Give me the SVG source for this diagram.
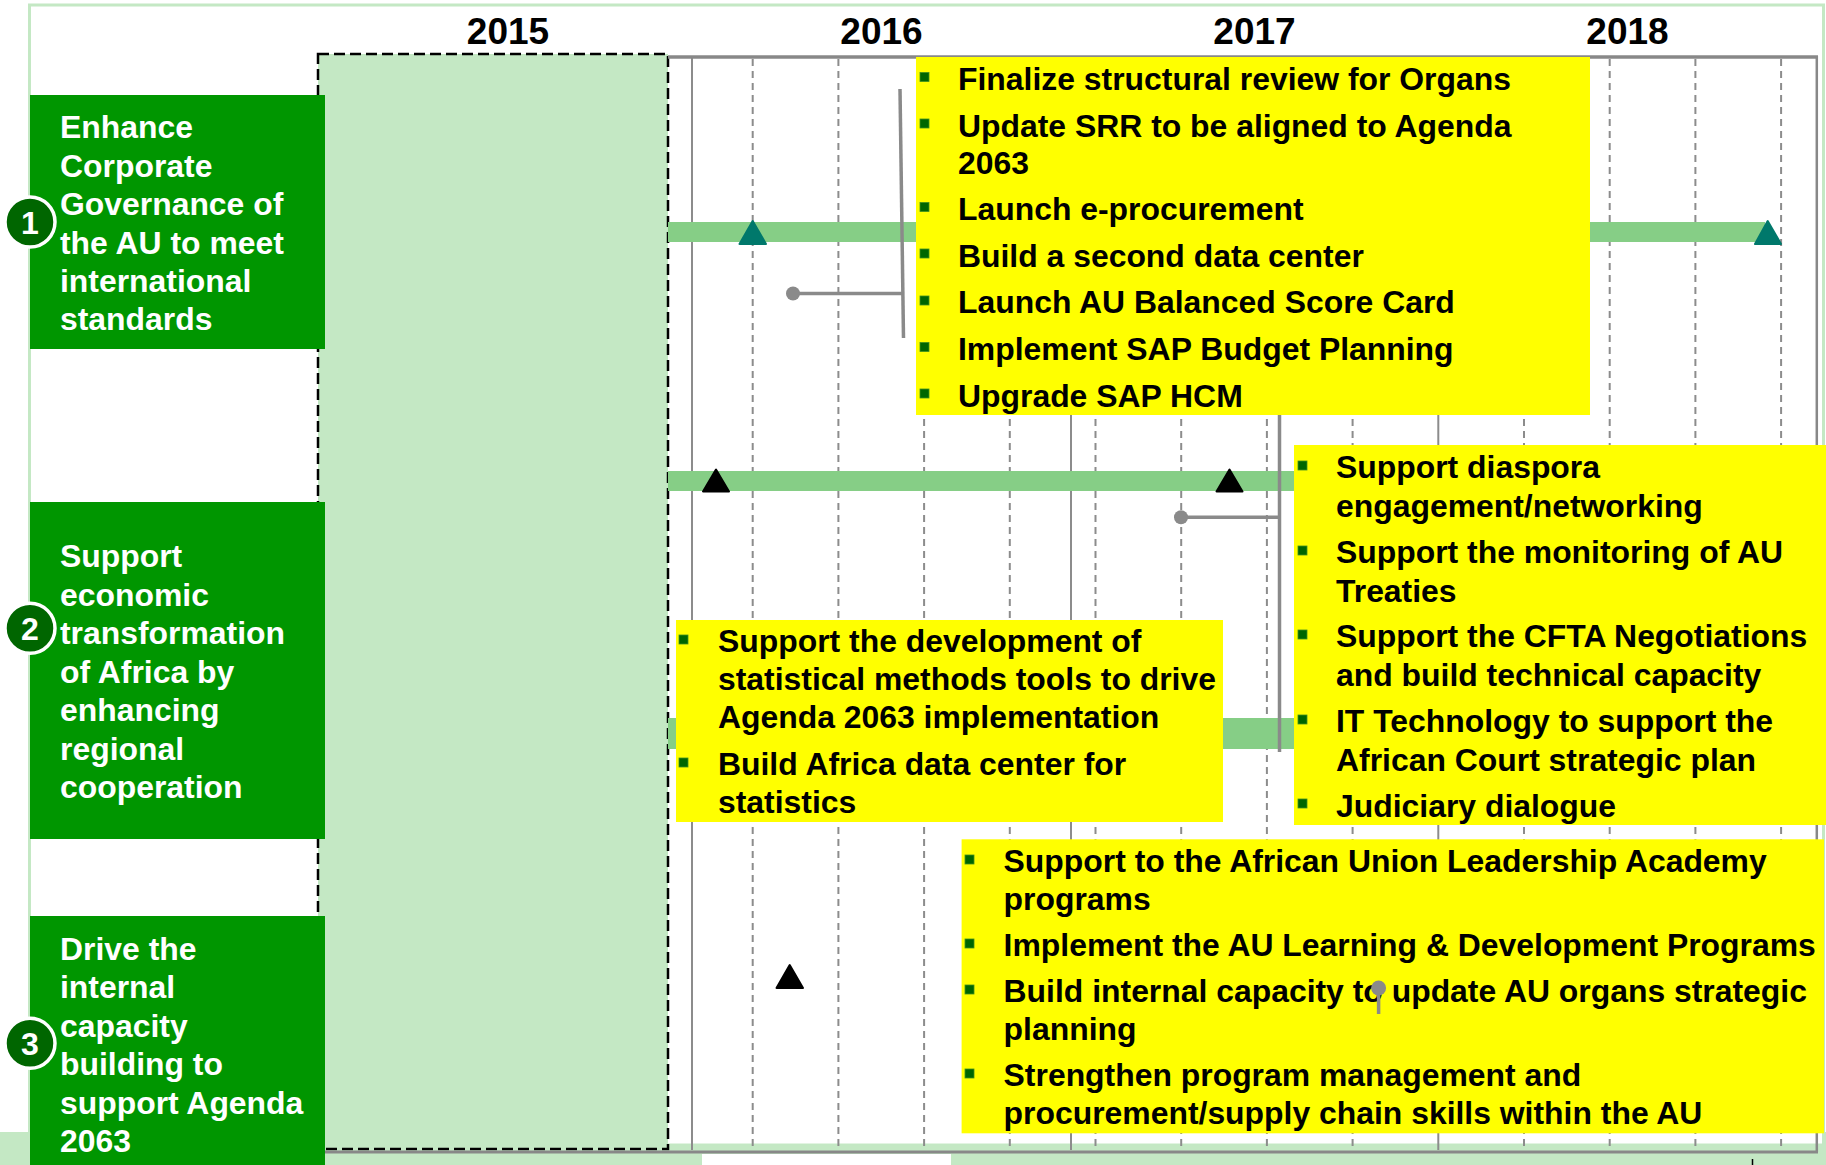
<svg xmlns="http://www.w3.org/2000/svg" width="1826" height="1165" viewBox="0 0 1826 1165">
<defs>
<style>
.t{font-family:"Liberation Sans",Arial,Helvetica,sans-serif;font-weight:bold;font-size:31.9px}
.w{fill:#ffffff}
.k{fill:#000000}
.yr{font-family:"Liberation Sans",Arial,Helvetica,sans-serif;font-weight:bold;font-size:37px;text-anchor:middle;fill:#000}
.num{font-family:"Liberation Sans",Arial,Helvetica,sans-serif;font-weight:bold;font-size:32px;text-anchor:middle;fill:#fff}
.goal{fill:#009600}
.badge{fill:#006600;stroke:#ffffff;stroke-width:3.5}
.task{fill:#ffff00}
.bul{fill:#006600;stroke:#3f8f1f;stroke-width:0.8}
.gs{stroke:#8c8c8c;stroke-width:2;fill:none}
.gd{stroke:#8c8c8c;stroke-width:2;stroke-dasharray:7 5;fill:none}
.bar{fill:#86ce86}
.teal{fill:#00786b;stroke:#00786b;stroke-width:2;stroke-linejoin:round}
.blk{fill:#000;stroke:#000;stroke-width:2;stroke-linejoin:round}
.con{stroke:#8a8a8a;stroke-width:3.5;fill:none}
.dot{fill:#8a8a8a}
</style>
</defs>
<rect x="0" y="0" width="1826" height="1165" fill="#ffffff"/>
<!-- bottom light green band -->
<rect x="0" y="1132" width="1826" height="33" fill="#c4e8c4"/>
<rect x="31" y="7" width="1791" height="1138" fill="#ffffff"/>
<rect x="29.5" y="5" width="1794" height="1140" fill="none" stroke="#c4e8c4" stroke-width="3"/>
<rect x="702" y="1154" width="249" height="11" fill="#ffffff"/>
<line x1="1752.5" y1="1159" x2="1752.5" y2="1165" stroke="#000" stroke-width="1.5"/>

<!-- 2015 shaded period -->
<rect id="period-2015" x="318" y="54" width="350" height="1095" fill="#c4e8c4" stroke="#000" stroke-width="2.5" stroke-dasharray="11 5"/>

<!-- grid -->
<g id="grid">
<line class="gs" x1="692" y1="58" x2="692" y2="1150"/>
<line class="gs" x1="1071" y1="58" x2="1071" y2="1150"/>
<line class="gs" x1="1438.3" y1="58" x2="1438.3" y2="1150"/>
<line class="gd" x1="752.7" y1="59" x2="752.7" y2="1150"/>
<line class="gd" x1="838.4" y1="59" x2="838.4" y2="1150"/>
<line class="gd" x1="924.1" y1="59" x2="924.1" y2="1150"/>
<line class="gd" x1="1009.8" y1="59" x2="1009.8" y2="1150"/>
<line class="gd" x1="1095.5" y1="59" x2="1095.5" y2="1150"/>
<line class="gd" x1="1181.2" y1="59" x2="1181.2" y2="1150"/>
<line class="gd" x1="1266.9" y1="59" x2="1266.9" y2="1150"/>
<line class="gd" x1="1352.6" y1="59" x2="1352.6" y2="1150"/>
<line class="gd" x1="1524" y1="59" x2="1524" y2="1150"/>
<line class="gd" x1="1609.7" y1="59" x2="1609.7" y2="1150"/>
<line class="gd" x1="1695.4" y1="59" x2="1695.4" y2="1150"/>
<line class="gd" x1="1781.1" y1="59" x2="1781.1" y2="1150"/>
<line x1="668" y1="57" x2="1818" y2="57" stroke="#888" stroke-width="3.5"/>
<line x1="1816.8" y1="56" x2="1816.8" y2="1152" stroke="#888" stroke-width="2.5"/>
<line x1="325" y1="1152" x2="1818" y2="1152" stroke="#888" stroke-width="3"/>
</g>

<!-- year labels -->
<g id="years">
<text class="yr" x="508" y="43.5">2015</text>
<text class="yr" x="881.5" y="43.5">2016</text>
<text class="yr" x="1254.5" y="43.5">2017</text>
<text class="yr" x="1627.5" y="43.5">2018</text>
</g>

<!-- bars and milestones -->
<g id="bars">
<rect class="bar" x="668" y="222" width="1097" height="20"/>
<rect class="bar" x="668" y="471" width="632" height="20"/>
<rect class="bar" x="668" y="718" width="632" height="31"/>
</g>
<g id="milestones">
<polygon class="teal" points="752.7,221 739.5,244 766,244"/>
<polygon class="teal" points="1767.7,221 1755,244 1781,244"/>
<polygon class="blk" points="716,469.5 703,491.5 729,491.5"/>
<polygon class="blk" points="1229.5,469.5 1216.5,491.5 1242.5,491.5"/>
<polygon class="blk" points="789.7,965 776.5,988 803,988"/>
</g>

<!-- connectors (row 1 and 2) -->
<g id="connectors">
<line class="con" x1="900" y1="89" x2="903.5" y2="338"/>
<line class="con" x1="793" y1="293.5" x2="902" y2="293.5"/>
<circle class="dot" cx="793" cy="293.5" r="7"/>
<line class="con" x1="1279.5" y1="410" x2="1279.5" y2="752"/>
<line class="con" x1="1181" y1="517.3" x2="1281" y2="517.3"/>
<circle class="dot" cx="1181" cy="517.3" r="7"/>
</g>

<!-- task box A -->
<g id="tasks-goal1">
<rect class="task" x="916" y="57" width="674" height="358"/>
<rect class="bul" x="920" y="72.5" width="9" height="9"/>
<rect class="bul" x="920" y="119" width="9" height="9"/>
<rect class="bul" x="920" y="202.5" width="9" height="9"/>
<rect class="bul" x="920" y="249" width="9" height="9"/>
<rect class="bul" x="920" y="296" width="9" height="9"/>
<rect class="bul" x="920" y="342.5" width="9" height="9"/>
<rect class="bul" x="920" y="389" width="9" height="9"/>
<text class="t k" x="958" y="90">Finalize structural review for Organs</text>
<text class="t k" x="958" y="136.7">Update SRR to be aligned to Agenda</text>
<text class="t k" x="958" y="174">2063</text>
<text class="t k" x="958" y="220">Launch e-procurement</text>
<text class="t k" x="958" y="266.7">Build a second data center</text>
<text class="t k" x="958" y="313.3">Launch AU Balanced Score Card</text>
<text class="t k" x="958" y="360">Implement SAP Budget Planning</text>
<text class="t k" x="958" y="406.5">Upgrade SAP HCM</text>
</g>

<!-- task box B -->
<g id="tasks-goal2-right">
<rect class="task" x="1294" y="445" width="532" height="380"/>
<rect class="bul" x="1298" y="461" width="9" height="9"/>
<rect class="bul" x="1298" y="546" width="9" height="9"/>
<rect class="bul" x="1298" y="630" width="9" height="9"/>
<rect class="bul" x="1298" y="715" width="9" height="9"/>
<rect class="bul" x="1298" y="799" width="9" height="9"/>
<text class="t k" x="1336" y="478.3">Support diaspora</text>
<text class="t k" x="1336" y="516.7">engagement/networking</text>
<text class="t k" x="1336" y="563.3">Support the monitoring of AU</text>
<text class="t k" x="1336" y="601.7">Treaties</text>
<text class="t k" x="1336" y="647.3">Support the CFTA Negotiations</text>
<text class="t k" x="1336" y="686">and build technical capacity</text>
<text class="t k" x="1336" y="732.3">IT Technology to support the</text>
<text class="t k" x="1336" y="770.7">African Court strategic plan</text>
<text class="t k" x="1336" y="816.7">Judiciary dialogue</text>
</g>

<!-- task box C -->
<g id="tasks-goal2-left">
<rect class="task" x="676" y="620" width="547" height="202"/>
<rect class="bul" x="679" y="635" width="9" height="9"/>
<rect class="bul" x="679" y="758" width="9" height="9"/>
<text class="t k" x="718" y="651.7">Support the development of</text>
<text class="t k" x="718" y="690">statistical methods tools to drive</text>
<text class="t k" x="718" y="728.3">Agenda 2063 implementation</text>
<text class="t k" x="718" y="775">Build Africa data center for</text>
<text class="t k" x="718" y="813.3">statistics</text>
</g>

<!-- task box D -->
<g id="tasks-goal3">
<rect class="task" x="961.6" y="839.3" width="862.4" height="294"/>
<rect class="bul" x="965" y="855" width="9" height="9"/>
<rect class="bul" x="965" y="939" width="9" height="9"/>
<rect class="bul" x="965" y="985" width="9" height="9"/>
<rect class="bul" x="965" y="1069" width="9" height="9"/>
<text class="t k" x="1003.6" y="871.7">Support to the African Union Leadership Academy</text>
<text class="t k" x="1003.6" y="910">programs</text>
<text class="t k" x="1003.6" y="956">Implement the AU Learning &amp; Development Programs</text>
<text class="t k" x="1003.6" y="1001.7">Build internal capacity to update AU organs strategic</text>
<text class="t k" x="1003.6" y="1040">planning</text>
<text class="t k" x="1003.6" y="1086">Strengthen program management and</text>
<text class="t k" x="1003.6" y="1124">procurement/supply chain skills within the AU</text>
</g>

<!-- connector row 3 (drawn over box D) -->
<g id="connector-3">
<line class="con" x1="1378.6" y1="988" x2="1378.6" y2="1014"/>
<circle class="dot" cx="1378.6" cy="988" r="7.5"/>
</g>

<!-- goals -->
<g id="goal-1">
<rect class="goal" x="30" y="95" width="295" height="254"/>
<text class="t w" x="60" y="138">Enhance</text>
<text class="t w" x="60" y="176.5">Corporate</text>
<text class="t w" x="60" y="215">Governance of</text>
<text class="t w" x="60" y="253.5">the AU to meet</text>
<text class="t w" x="60" y="292">international</text>
<text class="t w" x="60" y="330">standards</text>
<circle class="badge" cx="30" cy="222" r="25"/>
<text class="num" x="30" y="233.5">1</text>
</g>
<g id="goal-2">
<rect class="goal" x="30" y="502" width="295" height="337"/>
<text class="t w" x="60" y="567">Support</text>
<text class="t w" x="60" y="605.5">economic</text>
<text class="t w" x="60" y="644">transformation</text>
<text class="t w" x="60" y="682.5">of Africa by</text>
<text class="t w" x="60" y="721">enhancing</text>
<text class="t w" x="60" y="759.5">regional</text>
<text class="t w" x="60" y="798">cooperation</text>
<circle class="badge" cx="30" cy="628.3" r="25"/>
<text class="num" x="30" y="639.8">2</text>
</g>
<g id="goal-3">
<rect class="goal" x="30" y="916" width="295" height="249"/>
<text class="t w" x="60" y="959.5">Drive the</text>
<text class="t w" x="60" y="998">internal</text>
<text class="t w" x="60" y="1036.5">capacity</text>
<text class="t w" x="60" y="1075">building to</text>
<text class="t w" x="60" y="1113.5">support Agenda</text>
<text class="t w" x="60" y="1152">2063</text>
<circle class="badge" cx="30" cy="1043.3" r="25"/>
<text class="num" x="30" y="1054.8">3</text>
</g>
</svg>
